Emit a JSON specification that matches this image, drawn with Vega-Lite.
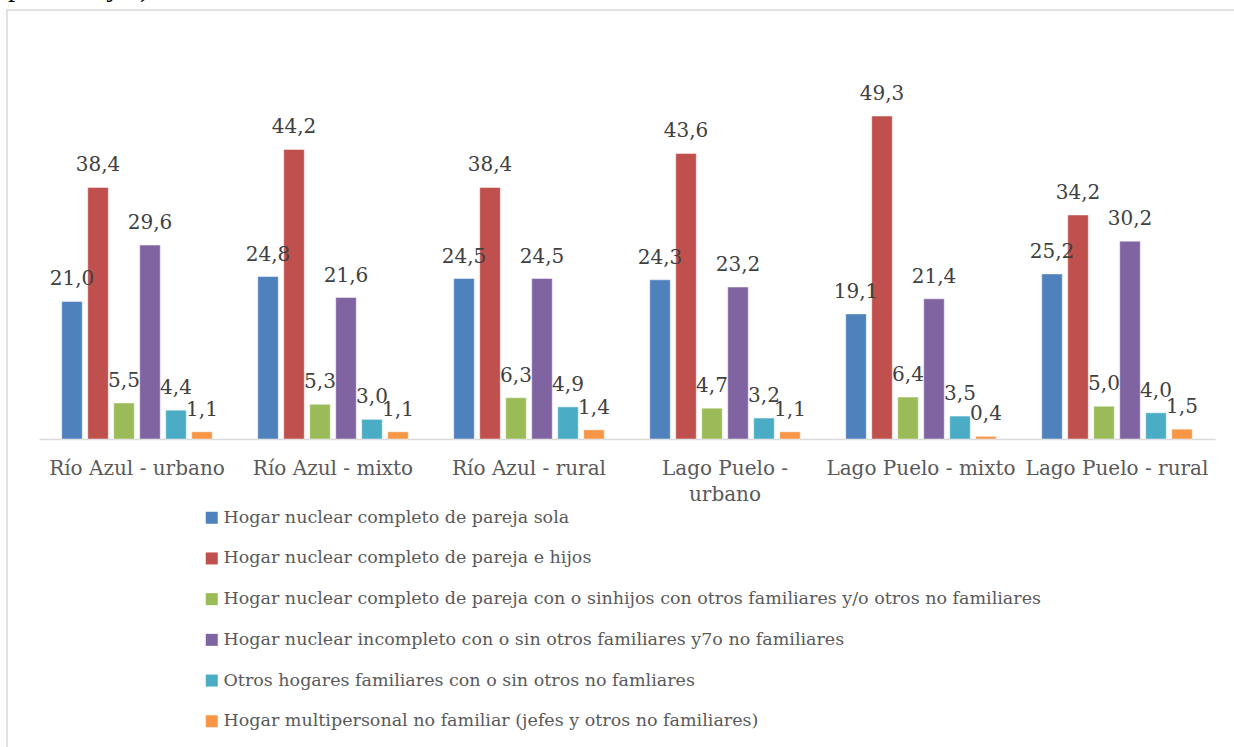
{
  "$schema": "https://vega.github.io/schema/vega-lite/v6.json",
  "autosize": "none",
  "padding": {"left": 7, "top": 10, "right": -3, "bottom": -3},
  "width": 1230,
  "height": 740,
  "title": {
    "text": "porcentajes)",
    "anchor": "start",
    "frame": "group",
    "orient": "top",
    "font": "Liberation Serif",
    "fontSize": 29,
    "fontWeight": "normal",
    "color": "#000000",
    "baseline": "alphabetic",
    "offset": 0,
    "dy": 15,
    "dx": 1
  },
  "config": {
    "locale": {"number": {"decimal": ",", "thousands": ".", "grouping": [3], "currency": ["", ""]}},
    "view": {"stroke": "#d9d9d9", "strokeWidth": 1.5},
    "font": "DejaVu Serif"
  },
  "data": {
    "values": [
      {"grupo": "Río Azul - urbano", "tipo": "Hogar nuclear completo de pareja sola", "pct": 21.0},
      {"grupo": "Río Azul - urbano", "tipo": "Hogar nuclear completo de pareja e hijos", "pct": 38.4},
      {"grupo": "Río Azul - urbano", "tipo": "Hogar nuclear completo de pareja con o sinhijos con otros familiares y/o otros no familiares", "pct": 5.5},
      {"grupo": "Río Azul - urbano", "tipo": "Hogar nuclear incompleto con o sin otros familiares y7o no familiares", "pct": 29.6},
      {"grupo": "Río Azul - urbano", "tipo": "Otros hogares familiares con o sin otros no famliares", "pct": 4.4},
      {"grupo": "Río Azul - urbano", "tipo": "Hogar multipersonal no familiar (jefes y otros no familiares)", "pct": 1.1},
      {"grupo": "Río Azul - mixto", "tipo": "Hogar nuclear completo de pareja sola", "pct": 24.8},
      {"grupo": "Río Azul - mixto", "tipo": "Hogar nuclear completo de pareja e hijos", "pct": 44.2},
      {"grupo": "Río Azul - mixto", "tipo": "Hogar nuclear completo de pareja con o sinhijos con otros familiares y/o otros no familiares", "pct": 5.3},
      {"grupo": "Río Azul - mixto", "tipo": "Hogar nuclear incompleto con o sin otros familiares y7o no familiares", "pct": 21.6},
      {"grupo": "Río Azul - mixto", "tipo": "Otros hogares familiares con o sin otros no famliares", "pct": 3.0},
      {"grupo": "Río Azul - mixto", "tipo": "Hogar multipersonal no familiar (jefes y otros no familiares)", "pct": 1.1},
      {"grupo": "Río Azul - rural", "tipo": "Hogar nuclear completo de pareja sola", "pct": 24.5},
      {"grupo": "Río Azul - rural", "tipo": "Hogar nuclear completo de pareja e hijos", "pct": 38.4},
      {"grupo": "Río Azul - rural", "tipo": "Hogar nuclear completo de pareja con o sinhijos con otros familiares y/o otros no familiares", "pct": 6.3},
      {"grupo": "Río Azul - rural", "tipo": "Hogar nuclear incompleto con o sin otros familiares y7o no familiares", "pct": 24.5},
      {"grupo": "Río Azul - rural", "tipo": "Otros hogares familiares con o sin otros no famliares", "pct": 4.9},
      {"grupo": "Río Azul - rural", "tipo": "Hogar multipersonal no familiar (jefes y otros no familiares)", "pct": 1.4},
      {"grupo": "Lago Puelo - urbano", "tipo": "Hogar nuclear completo de pareja sola", "pct": 24.3},
      {"grupo": "Lago Puelo - urbano", "tipo": "Hogar nuclear completo de pareja e hijos", "pct": 43.6},
      {"grupo": "Lago Puelo - urbano", "tipo": "Hogar nuclear completo de pareja con o sinhijos con otros familiares y/o otros no familiares", "pct": 4.7},
      {"grupo": "Lago Puelo - urbano", "tipo": "Hogar nuclear incompleto con o sin otros familiares y7o no familiares", "pct": 23.2},
      {"grupo": "Lago Puelo - urbano", "tipo": "Otros hogares familiares con o sin otros no famliares", "pct": 3.2},
      {"grupo": "Lago Puelo - urbano", "tipo": "Hogar multipersonal no familiar (jefes y otros no familiares)", "pct": 1.1},
      {"grupo": "Lago Puelo - mixto", "tipo": "Hogar nuclear completo de pareja sola", "pct": 19.1},
      {"grupo": "Lago Puelo - mixto", "tipo": "Hogar nuclear completo de pareja e hijos", "pct": 49.3},
      {"grupo": "Lago Puelo - mixto", "tipo": "Hogar nuclear completo de pareja con o sinhijos con otros familiares y/o otros no familiares", "pct": 6.4},
      {"grupo": "Lago Puelo - mixto", "tipo": "Hogar nuclear incompleto con o sin otros familiares y7o no familiares", "pct": 21.4},
      {"grupo": "Lago Puelo - mixto", "tipo": "Otros hogares familiares con o sin otros no famliares", "pct": 3.5},
      {"grupo": "Lago Puelo - mixto", "tipo": "Hogar multipersonal no familiar (jefes y otros no familiares)", "pct": 0.4},
      {"grupo": "Lago Puelo - rural", "tipo": "Hogar nuclear completo de pareja sola", "pct": 25.2},
      {"grupo": "Lago Puelo - rural", "tipo": "Hogar nuclear completo de pareja e hijos", "pct": 34.2},
      {"grupo": "Lago Puelo - rural", "tipo": "Hogar nuclear completo de pareja con o sinhijos con otros familiares y/o otros no familiares", "pct": 5.0},
      {"grupo": "Lago Puelo - rural", "tipo": "Hogar nuclear incompleto con o sin otros familiares y7o no familiares", "pct": 30.2},
      {"grupo": "Lago Puelo - rural", "tipo": "Otros hogares familiares con o sin otros no famliares", "pct": 4.0},
      {"grupo": "Lago Puelo - rural", "tipo": "Hogar multipersonal no familiar (jefes y otros no familiares)", "pct": 1.5}
    ]
  },
  "encoding": {
    "x": {
      "field": "grupo",
      "type": "nominal",
      "sort": null,
      "scale": {"range": [32, 1208], "paddingInner": 0, "paddingOuter": 0},
      "axis": {
        "title": null,
        "orient": "bottom",
        "offset": -311,
        "domainColor": "#d9d9d9",
        "domainWidth": 1.5,
        "ticks": false,
        "grid": false,
        "labelAngle": 0,
        "labelFont": "DejaVu Serif",
        "labelFontSize": 20,
        "labelColor": "#595959",
        "labelPadding": 19,
        "labelLimit": 0,
        "labelLineHeight": 26,
        "labelBaseline": "top",
        "labelExpr": "datum.value == 'Lago Puelo - urbano' ? ['Lago Puelo -', 'urbano'] : datum.value"
      }
    },
    "xOffset": {
      "field": "tipo",
      "type": "nominal",
      "sort": null,
      "scale": {"paddingInner": 0.21, "paddingOuter": 0.875}
    },
    "y": {
      "field": "pct",
      "type": "quantitative",
      "scale": {"domain": [0, 60], "range": [429, 36], "zero": true, "nice": false},
      "axis": null
    }
  },
  "layer": [
    {
      "mark": {"type": "bar", "stroke": "#ffffff", "strokeWidth": 0.75, "strokeOpacity": 0.6},
      "encoding": {
        "color": {
          "field": "tipo",
          "type": "nominal",
          "sort": null,
          "scale": {
            "domain": [
              "Hogar nuclear completo de pareja sola",
              "Hogar nuclear completo de pareja e hijos",
              "Hogar nuclear completo de pareja con o sinhijos con otros familiares y/o otros no familiares",
              "Hogar nuclear incompleto con o sin otros familiares y7o no familiares",
              "Otros hogares familiares con o sin otros no famliares",
              "Hogar multipersonal no familiar (jefes y otros no familiares)"
            ],
            "range": ["#4f81bd", "#c0504d", "#9bbb59", "#8064a2", "#4bacc6", "#f79646"]
          },
          "legend": {
            "title": null,
            "orient": "none",
            "legendX": 196,
            "legendY": 499,
            "direction": "vertical",
            "symbolType": "square",
            "symbolSize": 144,
            "symbolStrokeWidth": 0,
            "labelFont": "DejaVu Serif",
            "labelFontSize": 17.5,
            "labelColor": "#595959",
            "labelLimit": 0,
            "labelOffset": 3,
            "rowPadding": 21.7,
            "padding": 0
          }
        }
      }
    },
    {
      "mark": {"type": "text", "baseline": "alphabetic", "dy": -16, "font": "DejaVu Serif", "fontSize": 20, "color": "#404040"},
      "encoding": {
        "text": {"field": "pct", "type": "quantitative", "format": ".1f"}
      }
    }
  ]
}
